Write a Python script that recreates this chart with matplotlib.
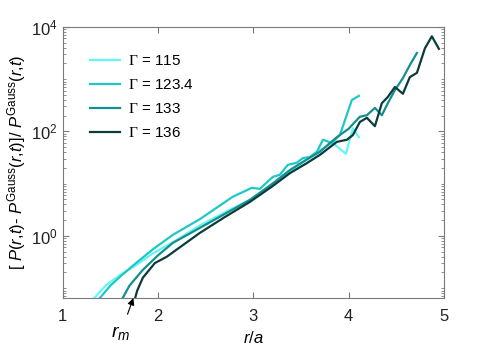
import numpy as np
import matplotlib
matplotlib.use('Agg')
from matplotlib import pyplot as plt
from matplotlib.ticker import LogLocator, FixedLocator, NullFormatter

plt.rcParams['font.family'] = ['Liberation Sans', 'DejaVu Sans']
plt.rcParams['mathtext.fontset'] = 'custom'
plt.rcParams['mathtext.rm'] = 'Liberation Serif'
plt.rcParams['mathtext.sf'] = 'Liberation Sans'
plt.rcParams['mathtext.it'] = 'Liberation Sans:italic'

# Data (x = r/a, y = log10 of relative deviation)
labels = [r'$\Gamma$ = 115', r'$\Gamma$ = 123.4', r'$\Gamma$ = 133', r'$\Gamma$ = 136']
colors = ['#66f5f5', '#1ec8c8', '#128f8f', '#0b3b3b']

x_115 = [1.30, 1.45, 1.60, 1.735, 1.95, 2.197, 2.438, 2.70, 2.963, 3.20, 3.383, 3.55, 3.698, 3.835, 3.971, 4.045, 4.108]
ly_115 = [-1.25, -0.95, -0.75, -0.60, -0.33, -0.076, 0.20, 0.45, 0.69, 0.97, 1.22, 1.45, 1.64, 1.78, 1.57, 2.06, 1.89]

x_123 = [1.36, 1.50, 1.62, 1.735, 1.95, 2.155, 2.438, 2.785, 2.984, 3.068, 3.205, 3.278, 3.362, 3.457, 3.520, 3.593, 3.667, 3.730, 3.824, 3.908, 4.034, 4.108]
ly_123 = [-1.25, -0.95, -0.75, -0.57, -0.25, 0.02, 0.32, 0.75, 0.92, 0.90, 1.13, 1.17, 1.36, 1.40, 1.49, 1.51, 1.61, 1.84, 1.78, 1.93, 2.60, 2.68]

x_133 = [1.61, 1.70, 1.84, 2.00, 2.155, 2.438, 2.70, 2.963, 3.20, 3.383, 3.55, 3.698, 3.877, 4.00, 4.118, 4.192, 4.276, 4.349, 4.412, 4.486, 4.570, 4.643, 4.717]
ly_133 = [-1.25, -0.95, -0.65, -0.37, -0.134, 0.153, 0.42, 0.688, 1.00, 1.26, 1.45, 1.61, 1.89, 2.05, 2.28, 2.31, 2.45, 2.31, 2.54, 2.79, 3.02, 3.27, 3.50]

x_136 = [1.75, 1.78, 1.84, 1.966, 2.09, 2.438, 2.70, 2.963, 3.20, 3.383, 3.55, 3.698, 3.877, 3.982, 4.045, 4.118, 4.192, 4.276, 4.349, 4.412, 4.486, 4.570, 4.643, 4.717, 4.801, 4.874, 4.948]
ly_136 = [-1.25, -1.05, -0.80, -0.52, -0.40, 0.057, 0.36, 0.65, 0.95, 1.20, 1.38, 1.55, 1.80, 1.84, 1.93, 2.18, 2.26, 2.10, 2.54, 2.66, 2.85, 2.72, 3.04, 3.12, 3.59, 3.82, 3.58]


def main():
    series = [(x_115, ly_115), (x_123, ly_123), (x_133, ly_133), (x_136, ly_136)]

    fig = plt.figure(figsize=(4.91, 3.54), dpi=100)
    ax = fig.add_axes([0.128, 0.158, 0.776, 0.766])

    for (xs, lys), lab, col in zip(series, labels, colors):
        ax.plot(xs, 10 ** np.array(lys), color=col, lw=1.6, label=lab)

    ax.set_yscale('log')
    ax.set_xlim(1, 5)
    ax.set_ylim(10 ** -1.19, 1e4)

    ax.xaxis.set_major_locator(FixedLocator([1, 2, 3, 4, 5]))
    ax.yaxis.set_major_locator(FixedLocator([1e0, 1e2, 1e4]))
    ax.yaxis.set_minor_locator(LogLocator(base=10, subs=np.arange(1, 10), numticks=30))
    ax.yaxis.set_minor_formatter(NullFormatter())

    for sp in ax.spines.values():
        sp.set_color('#7a7a7a')
        sp.set_linewidth(0.8)
    ax.tick_params(which='both', direction='in', top=True, right=True, colors='#7a7a7a',
                   labelcolor='#222222', labelsize=12)
    ax.tick_params(which='major', length=4)
    ax.tick_params(which='minor', length=2)
    ax.tick_params(axis='x', pad=8)

    ax.set_xlabel(r'$r$/$a$', fontsize=12, labelpad=4)
    ax.set_ylabel(r'[ $P$($r$,$t$)- $P^{\mathsf{Gauss}}$($r$,$t$)]/ $P^{\mathsf{Gauss}}$($r$,$t$)',
                  fontsize=12, labelpad=2)

    ax.annotate(r'$r_m$', xy=(1.74, 10 ** -1.19), xycoords='data',
                xytext=(1.61, 10 ** -1.85), textcoords='data', fontsize=14,
                ha='center', va='center', annotation_clip=False,
                arrowprops=dict(arrowstyle='-|>', color='black', lw=0.8,
                                shrinkA=5, shrinkB=0, mutation_scale=10))

    ax.legend(loc='upper left', bbox_to_anchor=(0.035, 0.95), frameon=False, fontsize=11,
              handlelength=2.0, handletextpad=0.5, labelspacing=0.65)

    fig.savefig('out.png', dpi=100)
    plt.close(fig)


if __name__ == '__main__':
    main()
